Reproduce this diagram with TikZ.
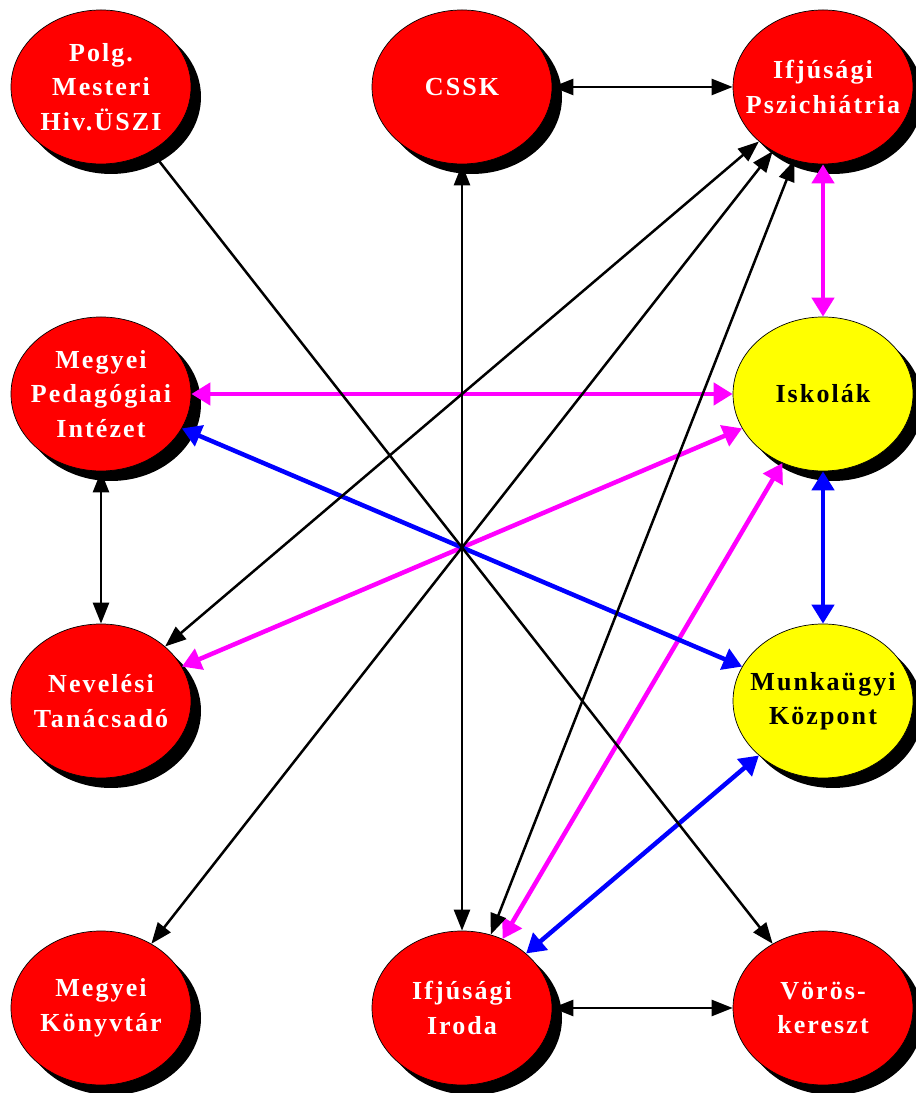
\documentclass[tikz,border=0pt]{standalone}
\usepackage{fontspec}
\usetikzlibrary{shapes.geometric,positioning,arrows.meta,shadows}
\newfontfamily\blobfamily{Liberation Serif}[LetterSpace=8]
\newcommand{\blobfont}{\blobfamily\bfseries\fontsize{14.8}{19.6}\selectfont}
\definecolor{blobred}{RGB}{255,0,0}
\definecolor{blobyellow}{RGB}{255,255,0}
\definecolor{linkpink}{RGB}{255,0,255}
\definecolor{linkblue}{RGB}{0,0,255}

\begin{document}
\begin{tikzpicture}[
  on grid,
  node distance=6.14cm and 7.22cm,
  blob/.style={ellipse, draw, thin, minimum width=3.6cm, minimum height=3.08cm, inner sep=0pt,
    drop shadow={shadow xshift=0.2cm, shadow yshift=-0.2cm, fill=black, opacity=1}},
  redblob/.style={blob, fill=blobred},
  yellowblob/.style={blob, fill=blobyellow},
  whitetxt/.style={text=white, font=\blobfont, align=center, inner sep=0pt},
  blacktxt/.style={whitetxt, text=black},
  blackline/.style={black, line width=0.05cm,
    arrows={Triangle[length=0.42cm,width=0.32cm]-Triangle[length=0.42cm,width=0.32cm]}},
  blackone/.style={blackline, arrows={-Triangle[length=0.42cm,width=0.32cm]}},
  pinkline/.style={linkpink, line width=0.09cm,
    arrows={Triangle[length=0.38cm,width=0.44cm]-Triangle[length=0.38cm,width=0.44cm]}},
  blueline/.style={pinkline, linkblue}
]
\useasboundingbox (0,0) rectangle (18.3,21.86);

% top row
\node[redblob] (polg) at (2.02,20.12) {};
\node[redblob, right=of polg] (cssk) {};
\node[redblob, right=of cssk] (psy) {};
% second and third rows
\node[redblob, below=of polg] (ped) {};
\node[yellowblob, below=of psy] (isk) {};
\node[redblob, below=of ped] (nev) {};
\node[yellowblob, below=of isk] (mk) {};
% bottom row
\node[redblob, below=of nev] (konyv) {};
\node[redblob, right=of konyv] (iroda) {};
\node[redblob, right=of iroda] (voros) {};

% texts
\node[whitetxt] (polg-t) at (polg) {Polg.\\Mesteri\\Hiv.ÜSZI};
\node[whitetxt] (cssk-t) at (cssk) {CSSK};
\node[whitetxt] (psy-t) at (psy) {Ifjúsági\\Pszichiátria};
\node[whitetxt] (ped-t) at (ped) {Megyei\\Pedagógiai\\Intézet};
\node[blacktxt] (isk-t) at (isk) {Iskolák};
\node[whitetxt] (nev-t) at (nev) {Nevelési\\Tanácsadó};
\node[blacktxt] (mk-t) at (mk) {Munkaügyi\\Központ};
\node[whitetxt] (konyv-t) at (konyv) {Megyei\\Könyvtár};
\node[whitetxt] (iroda-t) at (iroda) {Ifjúsági\\Iroda};
\node[whitetxt] (voros-t) at (voros) {Vörös-\\kereszt};

% magenta links
\path[pinkline]
(psy) edge (isk)
(ped) edge (isk)
(nev) edge (isk)
(iroda) edge (isk);

% blue links
\path[blueline]
(isk) edge (mk)
(ped) edge (mk)
(iroda) edge (mk);

% black links
\path[blackline]
(cssk) edge (psy)
(iroda) edge (voros)
(cssk) edge (iroda)
(ped) edge (nev)
(nev) edge (psy)
(konyv) edge (psy)
(iroda) edge (psy);
\path[blackone] (polg) edge (voros);

\end{tikzpicture}
\end{document}
